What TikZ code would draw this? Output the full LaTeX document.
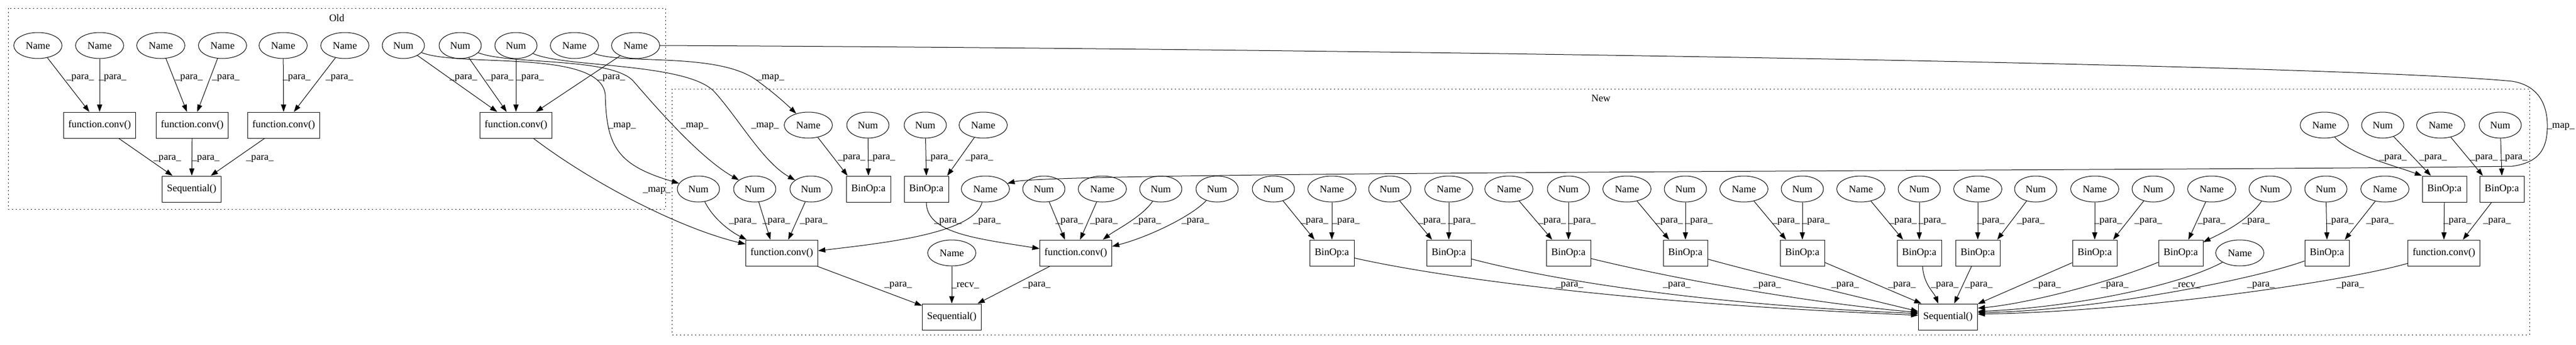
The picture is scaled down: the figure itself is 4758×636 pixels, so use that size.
\documentclass[tikz,border=0pt]{standalone}
\usepackage{fontspec}
\setmainfont{Liberation Serif}
\usetikzlibrary{shapes.geometric,arrows.meta,calc}
\tikzset{
  base/.style={draw, line width=0.75pt, inner sep=0pt, minimum height=36pt, font=\fontsize{14pt}{17pt}\selectfont},
  nm/.style={base, ellipse, minimum width=66.75pt},
  nu/.style={base, ellipse, minimum width=58.5pt},
  fcb/.style={base, rectangle, minimum width=99.75pt},
  bop/.style={base, rectangle, minimum width=61.5pt},
  sqb/.style={base, rectangle, minimum width=81.75pt},
  lbl/.style={font=\fontsize{14pt}{17pt}\selectfont, inner sep=0pt},
  ed/.style={line width=0.75pt, -{Triangle[length=10pt,width=7pt]}},
  clu/.style={line width=0.75pt, dash pattern=on 1.5pt off 3.75pt}
}
\newcommand{\pe}[3]{\draw[ed] (#1) -- (#2) node[lbl] at (#3) {\_para\_};}
\newcommand{\pa}[4]{\draw[ed] (#1) -- ($(#2.north)+(#3,0)$) node[lbl] at (#4) {\_para\_};}
\begin{document}
\begin{tikzpicture}[x=0.75pt,y=-0.75pt]
\useasboundingbox (0,0) rectangle (4758,636);
% clusters
\draw[clu] (15,15) rectangle (1229,386);
\node[lbl] (oldlbl) at (622,33) {Old};
\draw[clu] (1241,164) rectangle (4672,618);
\node[lbl] (newlbl) at (2957,181) {New};
% Old nodes
\node[nm] (o1) at (70,84) {Name};
\node[nm] (o2) at (184,84) {Name};
\node[nm] (o3) at (297,84) {Name};
\node[nm] (o4) at (411,84) {Name};
\node[nm] (o5) at (523,84) {Name};
\node[nm] (o6) at (637,84) {Name};
\node[nu] (o7) at (745,84) {Num};
\node[nu] (o8) at (850,84) {Num};
\node[nu] (o9) at (953,84) {Num};
\node[nm] (o10) at (1061,84) {Name};
\node[nm] (o11) at (1174,84) {Name};
\node[fcb] (ofa) at (184,231) {function.conv()};
\node[fcb] (ofb) at (355,231) {function.conv()};
\node[fcb] (ofc) at (524,231) {function.conv()};
\node[fcb] (ofd) at (953,231) {function.conv()};
\node[sqb] (oseq) at (354,349) {Sequential()};
% New top row
\node[nm] (t1) at (1493,231) {Name};
\node[nu] (t2) at (1603,231) {Num};
\node[nu] (t3) at (1709,231) {Num};
\node[nm] (t4) at (1816,231) {Name};
\node[nm] (t5) at (4293,231) {Name};
\node[nu] (t6) at (4401,231) {Num};
\node[nm] (t7) at (4508,231) {Name};
\node[nu] (t8) at (4618,231) {Num};
% New row 2
\node[nu] (a1) at (1290,349) {Num};
\node[nu] (a2) at (1394,349) {Num};
\node[nu] (a3) at (1498,349) {Num};
\node[bop] (bA) at (1604,349) {BinOp:a};
\node[bop] (bB) at (1711,349) {BinOp:a};
\node[nm] (a4) at (1820,349) {Name};
\node[nu] (a5) at (1928,349) {Num};
\node[nm] (a6) at (2036,349) {Name};
\node[nu] (a7) at (2144,349) {Num};
\node[nu] (a8) at (2248,349) {Num};
\node[nu] (a9) at (2352,349) {Num};
\node[nm] (a10) at (2460,349) {Name};
\node[nu] (a11) at (2567,349) {Num};
\node[nm] (a12) at (2676,349) {Name};
\node[nm] (a13) at (2787,349) {Name};
\node[nu] (a14) at (2897,349) {Num};
\node[nm] (a15) at (3005,349) {Name};
\node[nu] (a16) at (3113,349) {Num};
\node[nm] (a17) at (3221,349) {Name};
\node[nu] (a18) at (3329,349) {Num};
\node[nm] (a19) at (3437,349) {Name};
\node[nu] (a20) at (3545,349) {Num};
\node[nm] (a21) at (3653,349) {Name};
\node[nu] (a22) at (3760,349) {Num};
\node[nm] (a23) at (3869,349) {Name};
\node[nu] (a24) at (3977,349) {Num};
\node[nm] (a25) at (4085,349) {Name};
\node[nu] (a26) at (4193,349) {Num};
\node[nu] (a27) at (4296,349) {Num};
\node[nm] (a28) at (4405,349) {Name};
\node[bop] (bC) at (4515,349) {BinOp:a};
\node[bop] (bD) at (4621,349) {BinOp:a};
% New row 3
\node[fcb] (nf1) at (1444,467) {function.conv()};
\node[nm] (rv1) at (1758,467) {Name};
\node[fcb] (nf2) at (1987,467) {function.conv()};
\node[bop] (c1) at (2460,467) {BinOp:a};
\node[bop] (c2) at (2676,467) {BinOp:a};
\node[bop] (c3) at (2897,467) {BinOp:a};
\node[bop] (c4) at (3113,467) {BinOp:a};
\node[bop] (c5) at (3329,467) {BinOp:a};
\node[bop] (c6) at (3545,467) {BinOp:a};
\node[bop] (c7) at (3653,467) {BinOp:a};
\node[bop] (c8) at (3869,467) {BinOp:a};
\node[bop] (c9) at (4028,467) {BinOp:a};
\node[nm] (rv2) at (4137,467) {Name};
\node[bop] (c10) at (4298,467) {BinOp:a};
\node[fcb] (nf3) at (4514,467) {function.conv()};
% row 4
\node[sqb] (s1) at (1758,585) {Sequential()};
\node[sqb] (s2) at (3598,585) {Sequential()};
% Old edges
\pe{o1}{ofa}{148,144}
\pe{o2}{ofa}{208,144}
\pe{o3}{ofb}{349,144}
\pe{o4}{ofb}{417,144}
\pe{o5}{ofc}{548,144}
\pe{o6}{ofc}{627,144}
\pe{ofa}{oseq}{309,293}
\pe{ofb}{oseq}{380,293}
\pe{ofc}{oseq}{480,293}
\pe{o7}{ofd}{856,144}
\pe{o8}{ofd}{923,144}
\pe{o9}{ofd}{979,144}
\pe{o11}{ofd}{1129,144}
% map edges
\draw[ed] (ofd) .. controls (1090,335) and (1250,420) .. (nf1) node[lbl] at (1213,352) {\_map\_};
\draw[ed] (o7) .. controls (850,125) and (1110,90) .. (1118,175) .. controls (1120,270) and (1140,305) .. (a1) node[lbl] at (1149,233) {\_map\_};
\draw[ed] (o8) .. controls (940,120) and (1130,105) .. (1170,150) .. controls (1205,190) and (1290,290) .. (a2) node[lbl] at (1283,233) {\_map\_};
\draw[ed] (o9) .. controls (1040,125) and (1270,115) .. (1320,170) .. controls (1365,220) and (1410,300) .. (a3) node[lbl] at (1413,233) {\_map\_};
\draw[ed] (o10) .. controls (1150,120) and (1330,95) .. (1400,150) .. controls (1430,172) and (1450,190) .. (t1) node[lbl] at (1423,144) {\_map\_};
\draw[ed] (o11.east) .. controls (2500,90) and (4300,118) .. (4640,150) .. controls (4690,158) and (4705,195) .. (4705,232) .. controls (4705,275) and (4690,300) .. (4640,307) .. controls (4000,316) and (1950,316) .. (a4) node[lbl] at (4730,234) {\_map\_};
% New top -> row 2
\draw[ed] (t1) -- ($(bA.north west)+(3,0)$) node[lbl] at (1573,292) {\_para\_};
\pa{t2}{bA}{0}{1628,292}
\pa{t3}{bB}{0}{1735,292}
\draw[ed] (t4) -- ($(bB.north east)+(-3,0)$) node[lbl] at (1809,292) {\_para\_};
\draw[ed] (t5) .. controls (4340,285) and (4420,305) .. (bC.north west) node[lbl] at (4420,292) {\_para\_};
\pa{t6}{bC}{-25}{4494,292}
\pa{t7}{bD}{-35}{4588,292}
\pa{t8}{bD}{0}{4643,292}
% row 2 -> row 3
\draw[ed] (a1) .. controls (1318,405) and (1350,428) .. ($(nf1.north west)+(2,0)$) node[lbl] at (1372,409) {\_para\_};
\pa{a2}{nf1}{-21}{1434,409}
\pa{a3}{nf1}{12}{1503,409}
\draw[ed] (a4) .. controls (1800,430) and (1640,448) .. ($(nf1.east)+(0,-4)$) node[lbl] at (1823,409) {\_para\_};
\draw[ed] (bB.south) .. controls (1711,430) and (1800,440) .. ($(nf2.west)+(0,-8)$) node[lbl] at (1751,409) {\_para\_};
\pa{a5}{nf2}{-20}{1975,409}
\pa{a6}{nf2}{8}{2039,409}
\draw[ed] (a7) .. controls (2110,400) and (2060,425) .. ($(nf2.north east)+(-17,0)$) node[lbl] at (2119,409) {\_para\_};
\draw[ed] (a8) .. controls (2200,400) and (2120,438) .. ($(nf2.east)+(0,-12)$) node[lbl] at (2208,409) {\_para\_};
\pa{a9}{c1}{-32}{2428,409}
\pa{a10}{c1}{0}{2486,409}
\pa{a11}{c2}{-31}{2645,409}
\pa{a12}{c2}{0}{2700,409}
\pa{a13}{c3}{-30}{2867,409}
\pa{a14}{c3}{0}{2922,409}
\pa{a15}{c4}{-30}{3083,409}
\pa{a16}{c4}{0}{3138,409}
\pa{a17}{c5}{-30}{3299,409}
\pa{a18}{c5}{0}{3354,409}
\pa{a19}{c6}{-30}{3515,409}
\pa{a20}{c6}{0}{3569,409}
\pa{a21}{c7}{0}{3677,409}
\pa{a22}{c7}{36}{3751,409}
\pa{a23}{c8}{0}{3894,409}
\pa{a24}{c8}{34}{3968,409}
\pa{a25}{c9}{14}{4085,409}
\draw[ed] (a26) .. controls (4150,410) and (4100,432) .. ($(c9.east)+(0,-20)$) node[lbl] at (4167,409) {\_para\_};
\pa{a27}{c10}{0}{4322,409}
\pa{a28}{c10}{33}{4396,409}
\pa{bC}{nf3}{0}{4539,409}
\pa{bD}{nf3}{35}{4612,409}
% row 3 -> Sequential
\pe{nf1}{s1}{1659,527}
\draw[ed] (rv1) -- (s1) node[lbl] at (1783,527) {\_recv\_};
\pe{nf2}{s1}{1915,527}
\draw[ed] (c1) .. controls (2650,510) and (3000,560) .. ($(s2.west)+(0,-3)$) node[lbl] at (2899,527) {\_para\_};
\draw[ed] (c2) .. controls (2830,508) and (3100,560) .. ($(s2.west)+(0,-6)$) node[lbl] at (3097,527) {\_para\_};
\draw[ed] (c3) .. controls (3050,505) and (3300,555) .. ($(s2.west)+(0,-8)$) node[lbl] at (3264,527) {\_para\_};
\draw[ed] (c4) .. controls (3250,505) and (3440,550) .. ($(s2.west)+(0,-10)$) node[lbl] at (3408,527) {\_para\_};
\draw[ed] (c5) -- ($(s2.north west)+(6,0)$) node[lbl] at (3513,527) {\_para\_};
\draw[ed] ($(c6.south)+(6,0)$) .. controls (3553,525) and (3572,540) .. ($(s2.north)+(-18,0)$) node[lbl] at (3592,527) {\_para\_};
\pe{c7}{s2}{3655,527}
\pe{c8}{s2}{3781,527}
\draw[ed] (c9) .. controls (3900,520) and (3750,560) .. ($(s2.east)+(0,-16)$) node[lbl] at (3906,527) {\_para\_};
\draw[ed] (rv2) .. controls (4020,530) and (3820,568) .. ($(s2.east)+(0,-10)$) node[lbl] at (4039,527) {\_recv\_};
\draw[ed] (c10) .. controls (4150,520) and (3850,575) .. ($(s2.east)+(0,-8)$) node[lbl] at (4176,527) {\_para\_};
\draw[ed] (nf3) .. controls (4330,520) and (3950,575) .. ($(s2.east)+(0,-5)$) node[lbl] at (4341,527) {\_para\_};
\end{tikzpicture}
\end{document}
